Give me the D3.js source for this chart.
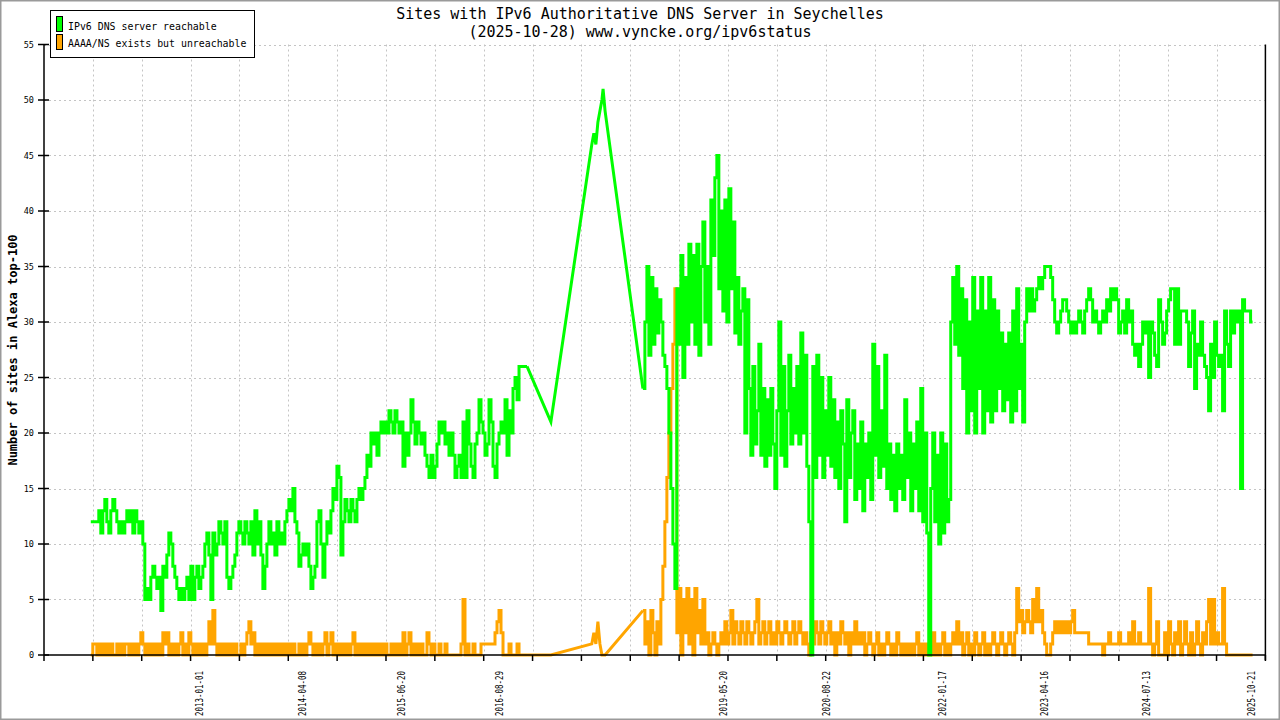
<!DOCTYPE html>
<html><head><meta charset="utf-8">
<script src="https://cdn.jsdelivr.net/npm/d3@7"></script>
<style>html,body{margin:0;padding:0;background:#fff;} svg{display:block;}</style>
</head><body>
<script>
const title1 = "Sites with IPv6 Authoritative DNS Server in Seychelles";
const title2 = "(2025-10-28) www.vyncke.org/ipv6status";
const yTitle = "Number of sites in Alexa top-100";
const seriesNames = ["IPv6 DNS server reachable", "AAAA/NS exists but unreachable"];
const seriesColors = ["#00ff00", "#ffa500"];
const yTicks = [0,5,10,15,20,25,30,35,40,45,50,55];
const xTickLabels = ["2013-01-01","2014-04-08","2015-06-20","2016-08-29","2019-05-20","2020-08-22","2022-01-17","2023-04-16","2024-07-13","2025-10-21"];
const xExtent = ["2011-02-12","2025-12-24"];

// period A: dense daily samples (read every ~9 days)
const periodA = ["2011-09-08","2016-12-29"];
const greenA = [
12,12,12,12,13,11,13,14,12,11,
13,14,13,12,11,12,11,12,13,12,
13,11,13,12,11,12,10,5,6,5,
7,8,7,6,7,4,8,7,9,11,
10,8,7,6,5,6,5,6,7,5,
8,5,7,8,6,7,8,10,11,9,
5,11,9,10,12,11,10,12,7,6,
7,8,9,11,12,11,10,12,11,10,
12,9,13,10,12,9,6,8,10,12,
10,11,9,12,10,11,10,12,13,14,
13,15,12,11,8,9,10,9,10,8,
6,7,8,12,13,10,7,10,12,11,
13,15,14,17,16,9,12,14,13,12,
14,13,12,14,15,14,15,16,18,17,
20,19,20,18,20,21,20,21,20,22,
21,20,22,21,20,21,17,20,18,20,
23,21,19,21,20,19,20,18,17,16,
18,16,17,19,21,20,21,19,20,18,
20,18,16,17,18,16,21,16,22,19,
17,16,19,20,23,21,20,18,19,23,
21,17,16,19,20,21,20,23,18,22,
20,24,25,23,26,26,26,26,26];
const orangeA = [
0,1,1,0,1,0,1,0,1,0,
1,0,0,1,0,1,0,1,1,0,
1,0,1,0,1,2,1,0,1,0,
1,0,1,0,1,0,2,1,2,0,
1,0,1,0,1,2,0,1,0,2,
1,0,1,0,1,0,1,0,1,3,
1,4,1,0,1,0,1,0,1,0,
1,0,1,0,0,1,0,1,2,3,
1,2,0,1,0,1,0,1,0,1,
0,1,0,1,0,1,0,1,0,1,
0,1,0,0,1,0,1,0,1,2,
1,0,1,0,1,0,1,2,0,1,
2,0,1,0,1,0,1,0,1,0,
1,2,0,1,0,1,0,1,0,1,
0,1,0,1,0,1,0,1,0,0,
1,0,1,0,1,0,2,0,1,2,
0,1,0,1,0,1,0,0,2,1,
0,1,0,0,1,0,0,1,0,0,
0,0,0,0,0,1,5,0,1,0,
0,1,0,0,0,1,1,1,1,1,
1,1,2,3,4,2,0,0,0,1,
0,0,0,1,0,0,0,0,0];

// sparse samples 2017
const sparseDates = ["2017-04-14","2017-10-13","2017-10-22","2017-10-31","2017-11-09","2017-11-18","2017-11-27","2017-12-02","2017-12-11"];
const sparseGreen = [21,46,47,46,48,49,50,51,49];
const sparseOrange = [0,1,2,1,3,1,0,0,0];

// period B: dense daily samples (read every ~9 days)
const periodB = ["2018-05-28","2025-10-28"];
const greenB = [
24,30,35,27,34,28,33,29,32,30,
27,26,24,20,15,10,6,33,28,36,
25,34,28,37,30,36,28,37,27,35,
39,30,35,28,41,36,43,45,33,40,
31,41,30,42,33,39,29,34,28,31,
33,20,32,24,18,26,19,22,28,18,
24,17,23,18,24,19,15,22,30,18,
26,17,22,27,19,24,20,26,19,29,
20,27,17,12,0,26,16,27,18,25,
16,22,18,25,17,23,16,21,15,22,
19,12,23,16,20,22,14,19,15,21,
13,19,16,20,14,28,18,26,16,22,
17,27,15,19,14,18,13,19,15,18,
14,23,16,20,13,19,15,21,13,24,
12,20,11,0,15,20,12,18,10,20,
11,19,12,14,30,34,28,35,27,33,
24,32,20,30,22,34,20,31,24,34,
20,31,22,34,21,32,22,31,24,29,
22,28,23,29,21,31,22,33,24,28,
21,30,33,31,33,31,32,33,34,33,
34,35,35,35,34,32,30,29,30,31,
32,32,31,30,29,30,29,30,31,30,
29,31,32,33,32,30,31,30,29,30,
31,30,32,31,33,32,33,32,29,30,
31,29,32,30,31,28,27,28,26,28,
30,29,30,25,30,29,27,26,32,30,
28,29,31,32,33,33,28,33,28,31,
31,31,30,26,29,31,24,28,27,30,
27,26,25,22,28,25,30,27,26,27,
22,31,28,26,31,29,31,30,31,15,
32,31,31,31,30,30];
const orangeB = [
4,1,3,0,4,2,0,3,1,5,
8,12,16,20,24,28,33,2,6,0,
5,2,6,1,5,0,6,2,4,1,
5,1,2,0,1,2,1,0,1,2,
1,3,1,2,4,1,3,2,1,3,
2,1,3,2,1,2,3,5,1,2,
3,1,2,3,1,2,1,3,2,1,
2,3,2,1,2,3,1,2,3,2,
1,2,1,0,2,1,3,2,1,3,
2,1,2,3,1,2,0,2,1,3,
2,1,2,0,2,1,3,1,2,1,
2,0,1,2,1,0,1,2,0,1,
0,1,2,1,0,1,0,2,1,0,
1,0,1,0,1,0,1,2,0,1,
0,1,0,1,0,2,0,1,0,1,
2,0,1,0,1,2,1,3,1,2,
0,1,2,0,1,0,2,1,0,1,
2,0,1,0,1,2,1,0,1,2,
1,0,1,2,1,0,2,6,3,4,
2,3,4,3,2,5,3,6,3,4,
2,1,0,0,1,2,3,2,3,2,
3,2,3,2,3,4,2,2,2,2,
2,2,2,1,1,1,1,1,1,1,
0,1,1,2,1,1,1,1,2,1,
1,1,1,2,1,3,1,1,2,1,
1,1,1,6,1,0,1,3,0,0,
0,2,0,3,1,0,2,1,3,0,
1,3,1,0,2,0,1,3,1,0,
2,1,3,5,1,5,1,2,1,1,
6,1,0,0,0,0,0,0,0,0,
0,0,0,0,0,0];

const W = 1280, H = 720;
const M = {left: 44, right: 1265.4, top: 44.5, bottom: 655};
const parse = d3.utcParse("%Y-%m-%d");

function spread(period, vals) {
  const t0 = parse(period[0]).getTime(), t1 = parse(period[1]).getTime();
  const n = vals.length;
  return vals.map((v, i) => ({date: new Date(t0 + (t1 - t0) * i / (n - 1)), v}));
}
function pieces(a, sv, b) {
  const A = spread(periodA, a), B = spread(periodB, b);
  const S = [A[A.length - 1]].concat(sparseDates.map((d, i) => ({date: parse(d), v: sv[i]})), [B[0]]);
  return {A, S, B};
}
const green = pieces(greenA, sparseGreen, greenB);
const orange = pieces(orangeA, sparseOrange, orangeB);

const x = d3.scaleUtc().domain(xExtent.map(parse)).range([M.left, M.right]);
const y = d3.scaleLinear().domain([0, 55]).range([M.bottom, M.top]);

const svg = d3.select("body").append("svg").attr("width", W).attr("height", H);
svg.append("rect").attr("width", W).attr("height", H).attr("fill", "#fff")
  .attr("stroke", "#9a9a9a").attr("stroke-width", 3);

const mono = "'DejaVu Sans Mono', 'Liberation Mono', monospace";

// grid positions: 25 equal divisions of the time axis
const gridDates = d3.range(26).map(i => x.invert(M.left + (M.right - M.left) * i / 25));

const grid = svg.append("g").attr("stroke", "#c4c4c4").attr("stroke-width", 1).attr("stroke-dasharray", "2,3");
grid.selectAll("line.h").data(yTicks.filter(t => t > 0)).join("line")
  .attr("x1", M.left).attr("x2", M.right)
  .attr("y1", d => Math.round(y(d)) + 0.5).attr("y2", d => Math.round(y(d)) + 0.5);
grid.selectAll("line.v").data(gridDates.slice(1, 25)).join("line")
  .attr("x1", d => Math.round(x(d)) + 0.5).attr("x2", d => Math.round(x(d)) + 0.5)
  .attr("y1", M.top).attr("y2", M.bottom);

// series
const stepLine = d3.line().curve(d3.curveStepAfter).x(d => x(d.date)).y(d => y(d.v));
const linLine = d3.line().x(d => x(d.date)).y(d => y(d.v));
function drawSeries(s, color) {
  const g = svg.append("g").attr("fill", "none").attr("stroke", color)
    .attr("stroke-width", 3).attr("stroke-linejoin", "miter");
  g.append("path").datum(s.A).attr("d", stepLine);
  g.append("path").datum(s.S).attr("d", linLine);
  g.append("path").datum(s.B).attr("d", stepLine);
}
drawSeries(orange, seriesColors[1]);
drawSeries(green, seriesColors[0]);

// axes
const ax = svg.append("g").attr("stroke", "#000").attr("stroke-width", 1.5);
ax.append("line").attr("x1", M.left).attr("x2", M.left).attr("y1", M.top).attr("y2", M.bottom);
ax.append("line").attr("x1", M.left).attr("x2", M.right).attr("y1", M.bottom).attr("y2", M.bottom);
ax.append("line").attr("x1", M.right).attr("x2", M.right).attr("y1", M.top).attr("y2", M.bottom + 5);
ax.selectAll("line.yt").data(yTicks).join("line")
  .attr("x1", M.left - 6).attr("x2", M.left + 5)
  .attr("y1", d => y(d)).attr("y2", d => y(d));
ax.selectAll("line.xt").data(gridDates).join("line")
  .attr("x1", d => x(d)).attr("x2", d => x(d))
  .attr("y1", M.bottom).attr("y2", M.bottom + 6);

svg.append("g").selectAll("text").data(yTicks).join("text")
  .attr("x", M.left - 10).attr("y", d => y(d) + 3)
  .attr("text-anchor", "end").attr("font-family", mono).attr("font-size", 8.5)
  .text(d => d);

svg.append("g").selectAll("text").data(xTickLabels).join("text")
  .attr("transform", d => `translate(${x(parse(d)) + 3.5},${671}) rotate(-90)`)
  .attr("text-anchor", "end").attr("font-family", mono).attr("font-size", 9.6)
  .attr("textLength", 45).attr("lengthAdjust", "spacingAndGlyphs")
  .text(d => d);

// titles
svg.append("text").attr("x", 640).attr("y", 19).attr("text-anchor", "middle")
  .attr("font-family", mono).attr("font-size", 15).text(title1);
svg.append("text").attr("x", 640).attr("y", 37).attr("text-anchor", "middle")
  .attr("font-family", mono).attr("font-size", 15).text(title2);
svg.append("text").attr("transform", "translate(17,350) rotate(-90)")
  .attr("text-anchor", "middle").attr("font-family", mono).attr("font-weight", "bold")
  .attr("font-size", 12).text(yTitle);

// legend
const lg = svg.append("g");
lg.append("rect").attr("x", 50.5).attr("y", 10.5).attr("width", 204).attr("height", 47)
  .attr("fill", "#fff").attr("stroke", "#000").attr("stroke-width", 1);
seriesNames.forEach((name, i) => {
  lg.append("rect").attr("x", 56.5).attr("y", 16.5 + i * 18).attr("width", 6).attr("height", 15)
    .attr("fill", seriesColors[i]).attr("stroke", "#000").attr("stroke-width", 1);
  lg.append("text").attr("x", 68).attr("y", 29.5 + i * 17.3)
    .attr("font-family", mono).attr("font-size", 9.9).text(name);
});
</script>
</body></html>
